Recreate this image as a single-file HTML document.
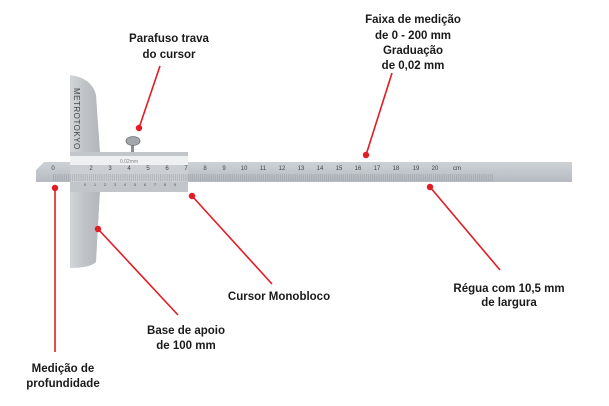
<!DOCTYPE html>
<html><head><meta charset="utf-8"><style>
html,body{margin:0;padding:0;background:#fff;width:609px;height:406px;overflow:hidden}
text.l{font-family:"Liberation Sans",sans-serif;font-weight:bold;font-size:11.5px;fill:#1a1a1a;text-anchor:middle}
</style></head><body>
<svg width="609" height="406" viewBox="0 0 609 406" xmlns="http://www.w3.org/2000/svg">
<defs>
<linearGradient id="g1" x1="0" y1="0" x2="1" y2="0"><stop offset="0" stop-color="#d3d6d9"/><stop offset="0.5" stop-color="#bfc2c6"/><stop offset="1" stop-color="#b3b7bb"/></linearGradient>
<linearGradient id="g2" x1="0" y1="0" x2="0" y2="1"><stop offset="0" stop-color="#cdd2d7"/><stop offset="1" stop-color="#b6bbc1"/></linearGradient>
<pattern id="tk" x="53" y="0" width="1.91" height="30" patternUnits="userSpaceOnUse"><rect x="0" y="0" width="0.6" height="30" fill="#7a7f85"/></pattern>
</defs>
<path d="M70,75 Q92,78 96,95 L100,152 L70,152 Z" fill="url(#g1)"/>
<path d="M70,190 L100,190 L96,262 Q90,268 70,268 Z" fill="url(#g1)"/>
<text x="0" y="0" transform="translate(74,88) rotate(90)" font-family="Liberation Sans,sans-serif" font-size="8" fill="#444" letter-spacing="0.5">METROTOKYO</text>
<path d="M44,162 L572,162 L572,182 L36,182 L36,170 Z" fill="url(#g2)"/>
<rect x="53" y="174" width="440" height="7" fill="url(#tk)" opacity="0.5"/>
<g font-family="Liberation Sans,sans-serif" font-size="6" fill="#444" text-anchor="middle">
<text x="53" y="170">0</text><text x="72" y="170">1</text><text x="205" y="170">8</text><text x="224" y="170">9</text><text x="244" y="170">10</text><text x="263" y="170">11</text><text x="282" y="170">12</text><text x="301" y="170">13</text><text x="320" y="170">14</text><text x="339" y="170">15</text><text x="358" y="170">16</text><text x="377" y="170">17</text><text x="396" y="170">18</text><text x="416" y="170">19</text><text x="435" y="170">20</text><text x="457" y="170">cm</text>
</g>
<rect x="131" y="142" width="3" height="11" fill="#8a8e93"/>
<ellipse cx="133" cy="141" rx="7" ry="4.5" fill="#a4a8ad" stroke="#6d7176" stroke-width="0.8"/>
<rect x="70" y="152" width="118" height="40" fill="#c2c6ca"/>
<rect x="70" y="156" width="118" height="9" fill="#eef0f2"/>
<text x="129" y="163" font-family="Liberation Sans,sans-serif" font-size="5" fill="#888" text-anchor="middle">0.02mm</text>
<rect x="70" y="165" width="118" height="17" fill="#cbcfd3"/>
<rect x="70" y="174" width="118" height="7" fill="url(#tk)" opacity="0.5"/>
<g font-family="Liberation Sans,sans-serif" font-size="6" fill="#444" text-anchor="middle">
<text x="91" y="170">2</text><text x="110" y="170">3</text><text x="129" y="170">4</text><text x="148" y="170">5</text><text x="167" y="170">6</text><text x="186" y="170">7</text>
</g>
<g font-family="Liberation Sans,sans-serif" font-size="4" fill="#555" text-anchor="middle">
<text x="85" y="186">0</text><text x="95" y="186">1</text><text x="105" y="186">2</text><text x="115" y="186">3</text><text x="125" y="186">4</text><text x="135" y="186">5</text><text x="145" y="186">6</text><text x="155" y="186">7</text><text x="165" y="186">8</text><text x="175" y="186">9</text>
</g>
<g stroke="#e31b23" stroke-width="1.6" fill="none">
<line x1="139" y1="128" x2="160" y2="66"/>
<line x1="366" y1="155" x2="392" y2="73"/>
<line x1="430" y1="187" x2="500" y2="270"/>
<line x1="192" y1="196" x2="272" y2="284"/>
<line x1="98" y1="229" x2="178" y2="315"/>
<line x1="55" y1="188" x2="55" y2="352"/>
</g>
<g fill="#e31b23">
<circle cx="139" cy="128" r="3.2"/><circle cx="366" cy="155" r="3.2"/><circle cx="430" cy="187" r="3.2"/>
<circle cx="192" cy="196" r="3.2"/><circle cx="98" cy="229" r="3.2"/><circle cx="55" cy="188" r="3.2"/>
</g>
<text class="l" x="169" y="42">Parafuso trava</text>
<text class="l" x="169" y="58">do cursor</text>
<text class="l" x="413" y="23">Faixa de medição</text>
<text class="l" x="413" y="39">de 0 - 200 mm</text>
<text class="l" x="413" y="54">Graduação</text>
<text class="l" x="413" y="69">de 0,02 mm</text>
<text class="l" x="509" y="292">Régua com 10,5 mm</text>
<text class="l" x="509" y="306">de largura</text>
<text class="l" x="279" y="300">Cursor Monobloco</text>
<text class="l" x="186" y="334">Base de apoio</text>
<text class="l" x="186" y="349">de 100 mm</text>
<text class="l" x="63" y="372">Medição de</text>
<text class="l" x="63" y="387">profundidade</text>
</svg>
</body></html>
